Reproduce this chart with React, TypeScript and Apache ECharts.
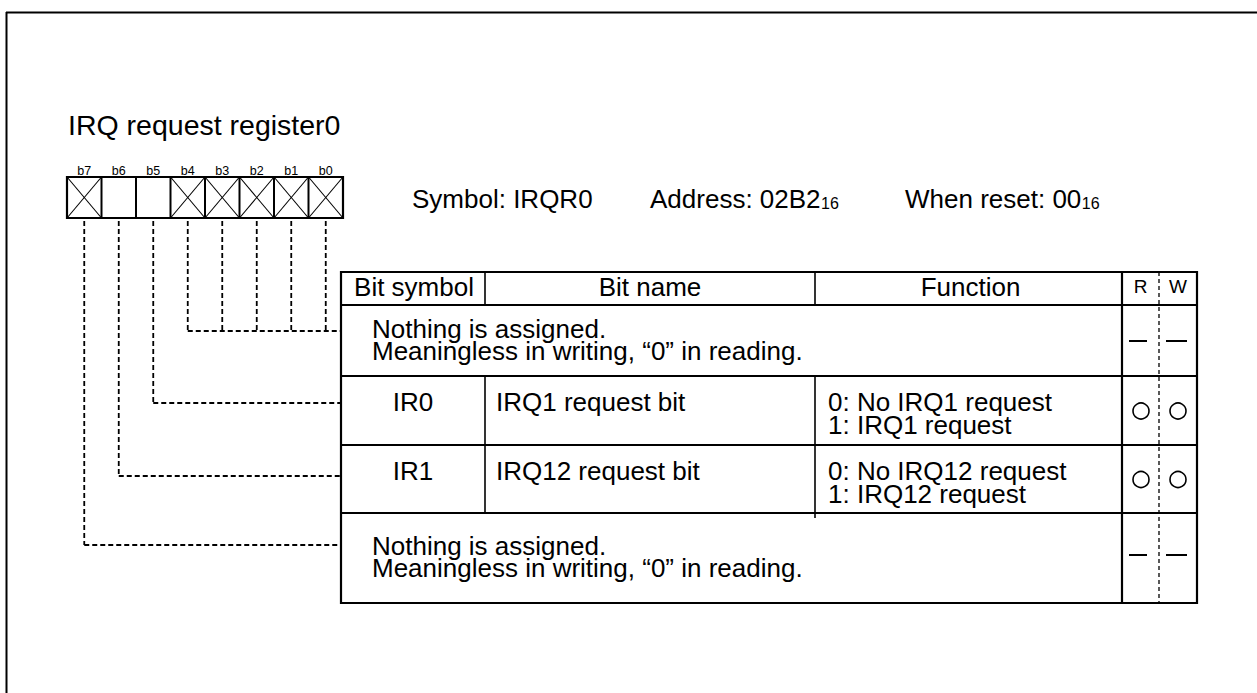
import React, { useEffect, useRef } from "react";
import * as echarts from "echarts";

// ---- data ----
const title = "IRQ request register0";
const bitLabels = ["b7", "b6", "b5", "b4", "b3", "b2", "b1", "b0"];
const bitUnused = [true, false, false, true, true, true, true, true];
const symbolText = "Symbol: IRQR0";
const addressText = "Address: 02B2";
const addressSub = "16";
const resetText = "When reset: 00";
const resetSub = "16";
const headers = ["Bit symbol", "Bit name", "Function", "R", "W"];
const rowSymbols = ["", "IR0", "IR1", ""];
const rowNames = ["", "IRQ1 request bit", "IRQ12 request bit", ""];
const rowFunctions: string[][] = [
  [],
  ["0: No IRQ1 request", "1: IRQ1 request"],
  ["0: No IRQ12 request", "1: IRQ12 request"],
  [],
];
const rowNotes: string[][] = [
  ["Nothing is assigned.", "Meaningless in writing, \u201c0\u201d in reading."],
  [],
  [],
  ["Nothing is assigned.", "Meaningless in writing, \u201c0\u201d in reading."],
];
const rowAccess = ["none", "rw", "rw", "none"];
const rowBits = [[4, 3, 2, 1, 0], [5], [6], [7]];

// ---- layout ----
const FONT = '"Liberation Sans", Arial, Helvetica, sans-serif';
const BOX_X = 67;
const CELL_W = 34.5;
const BOX_TOP = 177;
const BOX_BOT = 218;
const COLS = [341, 485, 815, 1122, 1159, 1197];
const ROWS = [272, 305, 376, 445, 513, 603];
const BRANCH_Y = [331, 403, 476, 545];

function measure(text: string, fs: number) {
  const c = document.createElement("canvas").getContext("2d")!;
  c.font = `${fs}px "Liberation Sans", Arial, sans-serif`;
  return c.measureText(text).width;
}

// lines: text lines; base: alphabetic baseline of first line; lh: line step
function T(x: number, base: number, lines: string | string[], fs: number, align = "left", lh?: number) {
  const arr = Array.isArray(lines) ? lines : [lines];
  const step = lh || Math.round(fs * 0.85);
  const firstCenter = base - 0.35 * fs;
  const y = firstCenter + ((arr.length - 1) * step) / 2;
  return {
    type: "text",
    x,
    y,
    silent: true,
    style: {
      text: arr.join("\n"),
      fontSize: fs,
      fontFamily: FONT,
      lineHeight: step,
      fill: "#000",
      align,
      verticalAlign: "middle",
      textAlign: align,
      textVerticalAlign: "middle",
    },
  };
}

function L(x1: number, y1: number, x2: number, y2: number, w = 1.5, dash?: number[]) {
  return {
    type: "line",
    silent: true,
    shape: { x1, y1, x2, y2 },
    style: { stroke: "#000", lineWidth: w, lineDash: dash || null, fill: null },
  };
}

function buildElements() {
  const els: any[] = [];
  // outer frame
  els.push(L(6.5, 12, 6.5, 693, 2));
  els.push(L(6, 12.5, 1257, 12.5, 2));

  // title
  els.push(T(68, 135, title, 28.5));

  // register box
  bitLabels.forEach((lab, i) => {
    const x = BOX_X + CELL_W * i;
    els.push(T(x + CELL_W / 2, 175, lab, 12.5, "center"));
    if (bitUnused[i]) {
      els.push(L(x, BOX_TOP, x + CELL_W, BOX_BOT, 1.1));
      els.push(L(x + CELL_W, BOX_TOP, x, BOX_BOT, 1.1));
    }
    if (i > 0) els.push(L(x, BOX_TOP, x, BOX_BOT, 2));
  });
  els.push({
    type: "rect",
    silent: true,
    shape: { x: BOX_X, y: BOX_TOP, width: CELL_W * 8, height: BOX_BOT - BOX_TOP },
    style: { fill: "none", stroke: "#000", lineWidth: 2.2 },
  });

  // symbol / address / reset
  els.push(T(412, 208, symbolText, 26));
  els.push(T(650, 208, addressText, 26));
  els.push(T(650 + measure(addressText, 26) + 0.5, 209, addressSub, 16));
  els.push(T(905, 208, resetText, 26));
  els.push(T(905 + measure(resetText, 26) + 0.5, 209, resetSub, 16));

  // dashed connectors
  const DASH = [5, 3];
  rowBits.forEach((bits, r) => {
    const by = BRANCH_Y[r];
    let minX = Infinity;
    bits.forEach((b) => {
      const idx = 7 - b;
      const cx = BOX_X + CELL_W * (idx + 0.5);
      minX = Math.min(minX, cx);
      els.push(L(cx, 221, cx, by, 1.8, DASH));
    });
    els.push(L(minX, by, COLS[0], by, 1.8, DASH));
  });

  // table
  const [c0, c1, c2, c3, c4, c5] = COLS;
  const [r0, r1, r2, r3, r4, r5] = ROWS;
  els.push({
    type: "rect",
    silent: true,
    shape: { x: c0, y: r0, width: c5 - c0, height: r5 - r0 },
    style: { fill: "none", stroke: "#000", lineWidth: 2.2 },
  });
  [r1, r2, r3, r4].forEach((y) => els.push(L(c0, y, c5, y, 2)));
  els.push(L(c1, r0, c1, r1, 1.6));
  els.push(L(c1, r2, c1, r4, 1.6));
  els.push(L(c2, r0, c2, r1, 1.6));
  els.push(L(c2, r2, c2, r4 + 5, 1.6));
  els.push(L(c3, r0, c3, r5, 2.2));
  els.push(L(c4, r0, c4, r5, 1.3, [4, 3]));

  // header
  els.push(T((c0 + c1) / 2 + 1, 296, headers[0], 26, "center"));
  els.push(T((c1 + c2) / 2, 296, headers[1], 26, "center"));
  els.push(T((c2 + c3) / 2 + 2, 296, headers[2], 26, "center"));
  els.push(T((c3 + c4) / 2, 293, headers[3], 19, "center"));
  els.push(T((c4 + c5) / 2, 293, headers[4], 19, "center"));

  // rows
  const rowTops = [r1, r2, r3, r4];
  const rowBots = [r2, r3, r4, r5];
  rowTops.forEach((top, r) => {
    const notes = rowNotes[r];
    if (notes.length) {
      const b0 = r === 0 ? 338 : 555;
      els.push(T(372, b0, notes, 26, "left", 22));
    }
    const lineBase = top + 35;
    if (rowSymbols[r]) els.push(T((c0 + c1) / 2, lineBase, rowSymbols[r], 26, "center"));
    if (rowNames[r]) els.push(T(c1 + 11, lineBase, rowNames[r], 26));
    if (rowFunctions[r].length) els.push(T(c2 + 13, lineBase, rowFunctions[r], 26, "left", 23));
    const my = r === 3 ? 555 : (top + rowBots[r]) / 2 + 0.5;
    if (rowAccess[r] === "none") {
      els.push(L(1129, my, 1147, my, 2));
      els.push(L(1166, my, 1187, my, 2));
    } else {
      [(c3 + c4) / 2 + 0.5, (c4 + c5) / 2].forEach((cx) =>
        els.push({
          type: "circle",
          silent: true,
          shape: { cx, cy: my, r: 8 },
          style: { fill: "none", stroke: "#000", lineWidth: 1.6 },
        })
      );
    }
  });
  return els;
}

export default function App() {
  const ref = useRef<HTMLDivElement>(null);
  useEffect(() => {
    document.body.style.margin = "0";
    document.body.style.background = "#fff";
    const chart = echarts.init(ref.current!, null, { renderer: "svg" });
    chart.setOption({
      animation: false,
      backgroundColor: "#fff",
      graphic: { elements: buildElements() },
    });
    return () => chart.dispose();
  }, []);
  return <div ref={ref} style={{ width: 1257, height: 693 }} />;
}
